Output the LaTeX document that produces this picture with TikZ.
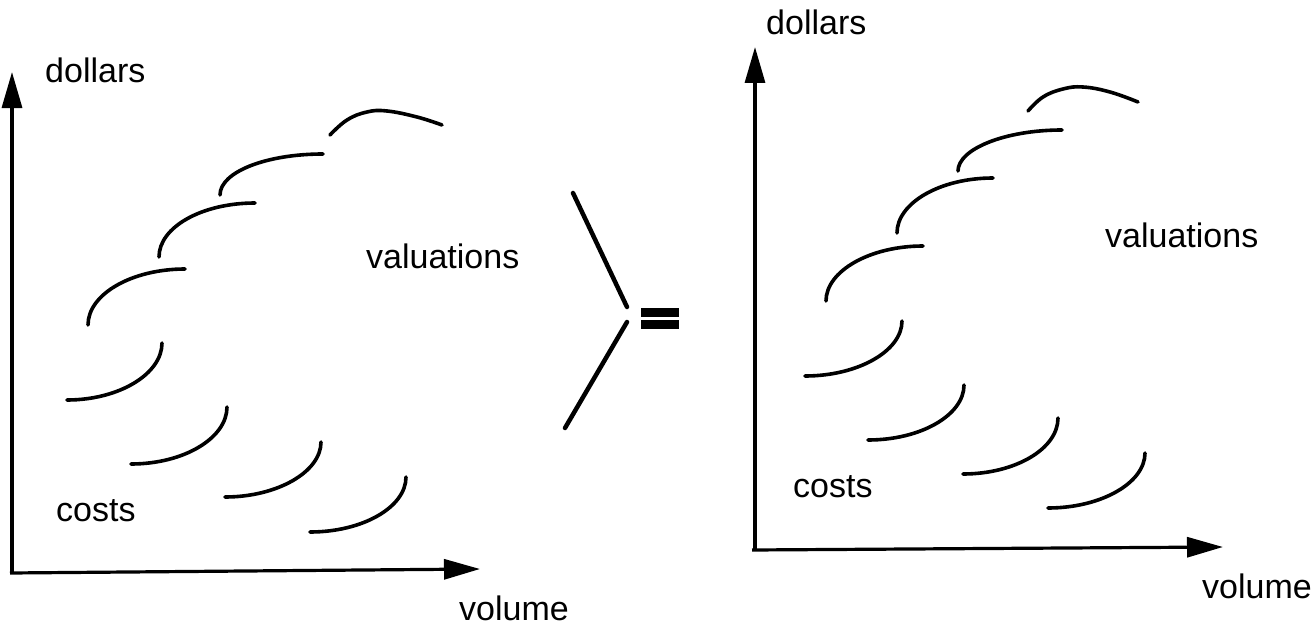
\documentclass[tikz,border=0pt]{standalone}
\usepackage{fontspec}
\setmainfont{Liberation Sans}
\usetikzlibrary{arrows.meta}
\begin{document}
\begin{tikzpicture}[x=1pt,y=-1pt,
  lbl/.style={font=\fontsize{34}{40}\selectfont, inner sep=0pt, anchor=base west},
  curve/.style={line width=3.6pt, line cap=round},
  axis/.style={line width=3.2pt, -{Triangle[length=36pt,width=20pt]}},
  bar/.style={line width=4.5pt, line cap=round}]
\useasboundingbox (0,0) rectangle (1315,626);
% ---------- left diagram ----------
\coordinate (LO) at (12,574);
\coordinate (LOh) at (10,573);
\coordinate (Ltop) at (12,72);
\coordinate (Lright) at (480,569);
\draw[axis] (LO) -- (Ltop);
\draw[axis] (LOh) -- (Lright);
\node[lbl] (ldollars) at (45,82) {dollars};
\node[lbl] (lval) at (366,268) {valuations};
\node[lbl] (lcosts) at (56,521) {costs};
\node[lbl] (lvol) at (459,620) {volume};
% valuations
\draw[curve] (88,325) .. controls (88,294) and (132,269) .. (185,269);
\draw[curve] (159,257) .. controls (159,227) and (202,203) .. (255,203);
\draw[curve] (220,195) .. controls (220,172) and (266,154) .. (323,154);
\draw[curve] plot[smooth, tension=0.7] coordinates {(330,135) (347,120) (367,112) (387,111) (417,117) (442,125)};
% costs
\draw[curve] (162,343) .. controls (162,374) and (119,400) .. (67,400);
\draw[curve] (227,407) .. controls (227,438) and (184,464) .. (131,464);
\draw[curve] (321,442) .. controls (321,472) and (277,497) .. (225,497);
\draw[curve] (406,477) .. controls (406,507) and (363,532) .. (310,532);
% ---------- middle symbol ----------
\coordinate (gt1) at (573,193);
\coordinate (gtm1) at (627,307);
\coordinate (gtm2) at (627,322);
\coordinate (gt2) at (565,428);
\draw[bar] (gt1) -- (gtm1);
\draw[bar] (gtm2) -- (gt2);
\fill (641,308) rectangle (679,317);
\fill (641,320) rectangle (679,329);
% ---------- right diagram ----------
\coordinate (RO) at (755,551);
\coordinate (ROh) at (752,550);
\coordinate (Rtop) at (755,47);
\coordinate (Rright) at (1223,547);
\draw[axis] (RO) -- (Rtop);
\draw[axis] (ROh) -- (Rright);
\node[lbl] (rdollars) at (766,35) {dollars};
\node[lbl] (rval) at (1105,247) {valuations};
\node[lbl] (rcosts) at (793,497) {costs};
\node[lbl] (rvol) at (1202,598) {volume};
% valuations
\draw[curve] (826,301) .. controls (826,271) and (870,246) .. (923,246);
\draw[curve] (897,233) .. controls (897,203) and (940,178) .. (993,178);
\draw[curve] (958,171) .. controls (958,149) and (1005,130) .. (1062,130);
\draw[curve] plot[smooth, tension=0.7] coordinates {(1028,111) (1043,97) (1063,89) (1083,87) (1110,92) (1138,102)};
% costs
\draw[curve] (902,321) .. controls (902,351) and (858,376) .. (805,376);
\draw[curve] (964,385) .. controls (964,415) and (921,440) .. (868,440);
\draw[curve] (1058,418) .. controls (1058,449) and (1015,474) .. (963,474);
\draw[curve] (1145,453) .. controls (1145,483) and (1101,508) .. (1048,508);
\end{tikzpicture}
\end{document}
